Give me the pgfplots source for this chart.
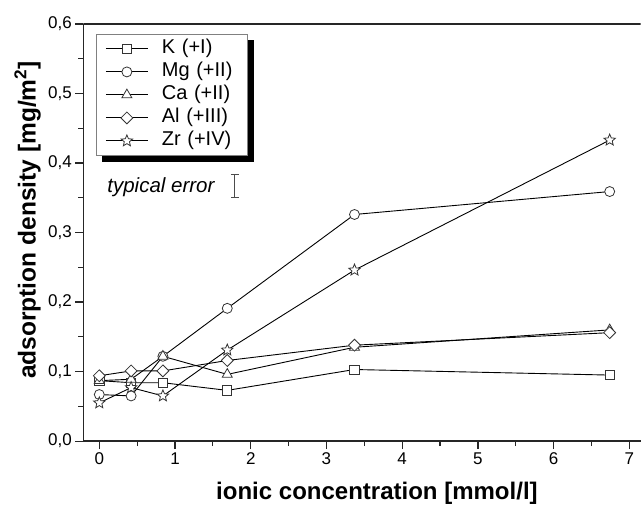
\documentclass[border=0pt]{standalone}
\usepackage{fontspec}
\setmainfont{Liberation Sans}
\usepackage{pgfplots}
\pgfplotsset{compat=1.18}
\usetikzlibrary{backgrounds}

% open five-pointed star
\pgfdeclareplotmark{ostar}{%
  \pgfpathmoveto{\pgfpointpolar{90}{\pgfplotmarksize}}%
  \pgfpathlineto{\pgfpointpolar{126}{0.45\pgfplotmarksize}}%
  \pgfpathlineto{\pgfpointpolar{162}{\pgfplotmarksize}}%
  \pgfpathlineto{\pgfpointpolar{198}{0.45\pgfplotmarksize}}%
  \pgfpathlineto{\pgfpointpolar{234}{\pgfplotmarksize}}%
  \pgfpathlineto{\pgfpointpolar{270}{0.45\pgfplotmarksize}}%
  \pgfpathlineto{\pgfpointpolar{306}{\pgfplotmarksize}}%
  \pgfpathlineto{\pgfpointpolar{342}{0.45\pgfplotmarksize}}%
  \pgfpathlineto{\pgfpointpolar{18}{\pgfplotmarksize}}%
  \pgfpathlineto{\pgfpointpolar{54}{0.45\pgfplotmarksize}}%
  \pgfpathclose
  \pgfusepathqfillstroke
}

\begin{document}
\begin{tikzpicture}
\begin{axis}[
    name=ax,
    scale only axis,
    width=557pt, height=417pt,
    xmin=-0.211, xmax=7.147,
    ymin=0, ymax=0.6,
    axis x line*=bottom, axis y line*=left,
    axis line style={line width=1.6pt, black!85},
    xtick={0,1,2,3,4,5,6,7}, minor x tick num=1,
    ytick={0,0.1,0.2,0.3,0.4,0.5,0.6}, minor y tick num=1,
    tick align=outside,
    major tick length=8pt, minor tick length=5pt,
    every tick/.style={line width=1.2pt, black!85},
    tick label style={font=\fontsize{17}{20}\selectfont},
    /pgf/number format/assume math mode=true,
    y tick label style={/pgf/number format/.cd, fixed, fixed zerofill, precision=1, use comma},
    xlabel={ionic concentration [mmol/l]},
    xlabel style={font=\bfseries\fontsize{24}{28}\selectfont, at={(rel axis cs:0.527,-0.1247)}, anchor=center},
    ylabel={adsorption density [mg/m\textsuperscript{2}]},
    ylabel style={font=\bfseries\fontsize{24.5}{28}\selectfont, at={(rel axis cs:-0.1,0.53)}, anchor=center},
    legend style={name=leg, at={(rel axis cs:0.0228,0.976)}, anchor=north west,
        draw=black!50, line width=0.8pt, fill=white, inner xsep=9pt, inner ysep=3pt,
        font=\fontsize{20}{23}\selectfont, cells={anchor=west},
        row sep=0pt, column sep=12pt,
        nodes={inner sep=1.5pt, text height=15pt, text depth=5pt, text width=75pt}},
    legend image code/.code={\draw[mark repeat=2, mark phase=2] plot coordinates {(0pt,0pt) (21pt,0pt) (42pt,0pt)};},
    every axis plot/.append style={black, line width=0.9pt},
]
\addplot[mark=square*, mark size=4.6pt, mark options={fill=white, draw=black!80, line width=0.8pt}]
  coordinates {(0,0.087) (0.42,0.084) (0.84,0.084) (1.69,0.073) (3.37,0.103) (6.74,0.095)};
\addplot[mark=*, mark size=5pt, mark options={fill=white, draw=black!80, line width=0.8pt}]
  coordinates {(0,0.067) (0.42,0.065) (0.84,0.122) (1.69,0.191) (3.37,0.326) (6.74,0.359)};
\addplot[mark=triangle*, mark size=5.8pt, mark options={fill=white, draw=black!80, line width=0.8pt}]
  coordinates {(0,0.087) (0.42,0.089) (0.84,0.122) (1.69,0.096) (3.37,0.135) (6.74,0.160)};
\addplot[mark=square*, mark size=4.2pt, mark options={rotate=45, fill=white, draw=black!80, line width=0.8pt}]
  coordinates {(0,0.094) (0.42,0.101) (0.84,0.101) (1.69,0.116) (3.37,0.138) (6.74,0.156)};
\addplot[mark=ostar, mark size=6pt, mark options={fill=white, draw=black!80, line width=0.8pt}]
  coordinates {(0,0.055) (0.42,0.077) (0.84,0.065) (1.69,0.131) (3.37,0.246) (6.74,0.433)};
\legend{K (+I), Mg (+II), Ca (+II), Al (+III), Zr (+IV)}

% typical error bar
\addplot[forget plot, draw=none, mark=none,
  error bars/.cd, y dir=both, y explicit,
  error bar style={line width=0.8pt, black!70},
  error mark options={rotate=90, mark size=4pt, line width=0.8pt, black!70}]
  coordinates {(1.79,0.367) +- (0,0.0165)};
\node[anchor=base east, font=\itshape\fontsize{20.5}{24}\selectfont] at (axis cs:1.568,0.358) {typical error};

\draw[line width=1.6pt, black!85] (rel axis cs:0,1) -- (rel axis cs:1,1);
\end{axis}
\begin{pgfonlayer}{background}
\fill[black] ([shift={(6pt,-6pt)}]leg.south west) rectangle ([shift={(6pt,-6pt)}]leg.north east);
\end{pgfonlayer}
\pgfresetboundingbox
\path ([shift={(-83.3pt,-65pt)}]ax.south west) rectangle ([shift={(1.5pt,24pt)}]ax.north east);
\end{tikzpicture}
\end{document}
